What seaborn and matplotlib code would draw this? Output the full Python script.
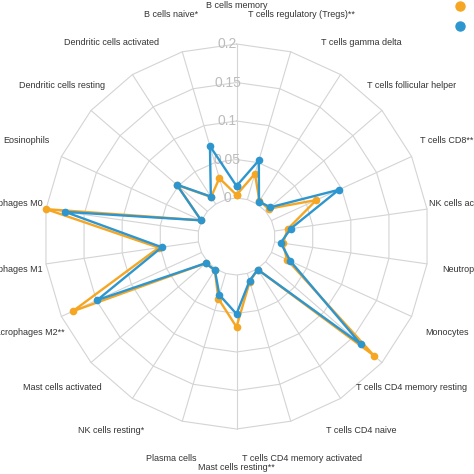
import numpy as np
import pandas as pd
import matplotlib.pyplot as plt
import seaborn as sns
from matplotlib.lines import Line2D

# cell types, clockwise from the top
cells = ['B cells memory', 'T cells regulatory (Tregs)**', 'T cells gamma delta',
         'T cells follicular helper', 'T cells CD8**', 'NK cells activated',
         'Neutrophils', 'Monocytes', 'T cells CD4 memory resting', 'T cells CD4 naive',
         'T cells CD4 memory activated', 'Mast cells resting**', 'Plasma cells',
         'NK cells resting*', 'Mast cells activated', 'Macrophages M2**',
         'Macrophages M1', 'Macrophages M0', 'Eosinophils', 'Dendritic cells resting',
         'Dendritic cells activated', 'B cells naive*']

# estimated fractions
group_orange = [0.004, 0.035, 0.005, 0.005, 0.064, 0.017, 0.011, 0.022, 0.186, 0.001,
                0.011, 0.0675, 0.034, 0.002, 0.003, 0.184, 0.052, 0.200, 0.0005, 0.052,
                0.011, 0.029]
group_blue = [0.0156, 0.053, 0.004, 0.008, 0.096, 0.021, 0.008, 0.027, 0.164, 0.001,
              0.010, 0.0506, 0.029, 0.002, 0.003, 0.149, 0.048, 0.175, 0.0005, 0.053,
              0.0116, 0.0725]

ring_values = [0, 0.05, 0.1, 0.15, 0.2]
ring_labels = ['0', '0.05', '0.1', '0.15', '0.2']

sns.set_style('white')
plt.rcParams['font.family'] = ['Liberation Sans', 'DejaVu Sans']
plt.rcParams['axes.edgecolor'] = 'none'

ORANGE = '#F5A623'
BLUE = '#2E96CF'
GRID = '#d4d4d4'

n = len(cells)
theta = np.arange(n) * 2 * np.pi / n
theta_closed = list(theta) + [2 * np.pi]

rows = []
for name, vals in [('orange', group_orange), ('blue', group_blue)]:
    for t, v in zip(theta_closed, vals + vals[:1]):
        rows.append({'theta': t, 'value': v, 'group': name})
df = pd.DataFrame(rows)

fig = plt.figure(figsize=(4.74, 4.74), dpi=100)
R = 192.5 / 474
cx, cy = 236.5 / 474, 1 - 236.5 / 474
ax = fig.add_axes([cx - R, cy - R, 2 * R, 2 * R], projection='polar')
ax.set_theta_zero_location('N')
ax.set_theta_direction(-1)

# polygon grid + spokes
for v in ring_values:
    ax.plot(theta_closed, [v] * (n + 1), color=GRID, lw=0.8, zorder=1)
for t in theta:
    ax.plot([t, t], [0, 0.2], color=GRID, lw=0.8, zorder=1)

sns.lineplot(data=df, x='theta', y='value', hue='group', hue_order=['orange', 'blue'],
             palette={'orange': ORANGE, 'blue': BLUE}, sort=False, estimator=None,
             marker='o', markersize=5.5, markeredgewidth=0, linewidth=1.7,
             legend=False, ax=ax, zorder=3)
for line in ax.lines:
    line.set_clip_on(False)

ax.set_rorigin(-0.05)
ax.set_ylim(0, 0.2)
ax.set_xticks([])
ax.set_yticks([])
ax.grid(False)
for s in ax.spines.values():
    s.set_visible(False)
    s.set_edgecolor('none')
ax.patch.set_edgecolor('none')
ax.set_xlabel('')
ax.set_ylabel('')

for v, lab in zip(ring_values, ring_labels):
    ax.annotate(lab, xy=(0, v), xytext=(-9, 0), textcoords='offset pixels',
                ha='center', va='center', color='#bcbcbc', fontsize=10, zorder=2)

for t, name in zip(theta, cells):
    ax.text(t, 0.25, name, ha='center', va='center', fontsize=6.5,
            color='#333333', clip_on=False)

handles = [Line2D([], [], ls='none', marker='o', color=ORANGE, markersize=6.5),
           Line2D([], [], ls='none', marker='o', color=BLUE, markersize=6.5)]
fig.legend(handles, ['', ''], loc='upper left', bbox_to_anchor=(0.936, 1.020),
           frameon=False, handlelength=1, handletextpad=0, labelspacing=0.38,
           borderpad=0.2, fontsize=10)

fig.savefig('out.png', dpi=100)
